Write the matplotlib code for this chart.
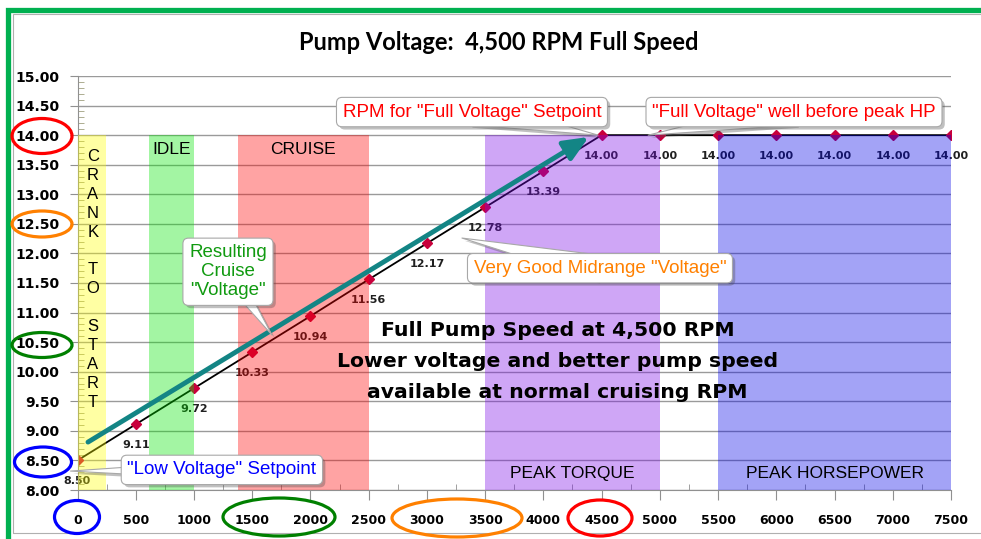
import numpy as np
import matplotlib
matplotlib.use('Agg')
import matplotlib.pyplot as plt
from matplotlib.patches import Ellipse, Rectangle
import matplotlib.patheffects as pe

# data
rpm = [0, 500, 1000, 1500, 2000, 2500, 3000, 3500, 4000, 4500, 5000, 5500, 6000, 6500, 7000, 7500]
volts = [8.50, 9.11, 9.72, 10.33, 10.94, 11.56, 12.17, 12.78, 13.39, 14.00, 14.00, 14.00, 14.00, 14.00, 14.00, 14.00]

band_start = [0, 612, 1375, 3500, 5500]
band_end = [245, 1000, 2500, 5000, 7500]
band_top = 14.0
band_color = ['#ffff00', '#00e600', '#ff0000', '#7a0ae8', '#0000e8']
band_names = ['', 'IDLE', 'CRUISE', 'PEAK TORQUE', 'PEAK HORSEPOWER']

W, H = 981, 539
fig = plt.figure(figsize=(W/100, H/100), dpi=100)
ax = fig.add_axes([77.5/W, 1-490/H, (951-77.5)/W, (490-76)/H])

def fp(x, y):
    # pixel (top-left origin) -> figure fraction
    return (x/W, 1-y/H)

# frame around the chart
fig.patches.append(Rectangle(fp(8, 560), 1100/W, 550/H, transform=fig.transFigure,
                             fill=False, ec='#00b050', lw=3.8, zorder=0))
fig.patches.append(Rectangle(fp(13, 533), 1100/W, 519/H, transform=fig.transFigure,
                             fill=False, ec='#b0b0b0', lw=0.8, zorder=0))

ax.set_xlim(0, 7500)
ax.set_ylim(8, 15)
ax.set_xticks(np.arange(0, 7501, 500))
ax.set_xticks(np.arange(250, 7500, 500), minor=True)
ax.set_yticks(np.arange(8, 15.01, 0.5))
ax.set_yticks(np.arange(8, 15.01, 0.1), minor=True)
ax.set_yticklabels(['%.2f' % v for v in np.arange(8, 15.01, 0.5)])
ax.tick_params(axis='x', which='major', direction='out', length=7, color='#909090',
               pad=10, labelsize=9)
ax.tick_params(axis='x', which='minor', direction='in', length=4, color='#909090')
ax.tick_params(axis='y', which='major', direction='out', length=6, color='#909090',
               pad=7, labelsize=10)
ax.tick_params(axis='y', which='minor', direction='in', length=4, color='#a0a080')
for lab in ax.get_xticklabels() + ax.get_yticklabels():
    lab.set_fontweight('bold')
for s in ['top', 'right']:
    ax.spines[s].set_visible(False)
ax.spines['left'].set_color('#909090')
ax.spines['bottom'].set_color('#909090')
ax.grid(axis='y', which='major', color='#9a9a9a', lw=1)
ax.set_axisbelow(True)

# series
ax.plot(rpm, volts, color='black', lw=1.3, zorder=2)
ax.plot(rpm, volts, ls='none', marker='D', ms=5.5, color='#c8003c', zorder=2.2)
for x, v in zip(rpm, volts):
    ax.annotate('%.2f' % v, (x, v), xytext=(0, -15), textcoords='offset points',
                ha='center', va='center', fontsize=8, fontweight='bold',
                color='#202020', zorder=2.3, annotation_clip=False)

# shaded bands drawn over the series
for x0, x1, c in zip(band_start, band_end, band_color):
    ax.fill_between([x0, x1], 8, band_top, color=c, alpha=0.36, lw=0, zorder=3)
ax.text((band_start[1]+band_end[1])/2, 13.75, band_names[1], ha='center', va='center',
        fontsize=12.5, family='Liberation Sans', zorder=5)
ax.text((band_start[2]+band_end[2])/2, 13.75, band_names[2], ha='center', va='center',
        fontsize=12.5, family='Liberation Sans', zorder=5)
ax.text((band_start[3]+band_end[3])/2, 8.28, band_names[3], ha='center', va='center',
        fontsize=12.5, family='Liberation Sans', zorder=5)
ax.text((band_start[4]+band_end[4])/2, 8.28, band_names[4], ha='center', va='center',
        fontsize=12.5, family='Liberation Sans', zorder=5)
ax.text(band_end[0]/2 + 10, 11.56, 'C\nR\nA\nN\nK\n\nT\nO\n\nS\nT\nA\nR\nT', ha='center', va='center',
        fontsize=12, family='Liberation Sans', linespacing=1.33, zorder=5)

# teal trend arrow
ax.annotate('', xy=(4390, 13.97), xytext=(90, 8.81),
            arrowprops=dict(arrowstyle='-|>,head_length=1.5,head_width=0.65',
                            lw=3.5, color='#138585', shrinkA=0, shrinkB=0), zorder=6)

# big comment
ax.text(4120, 10.17, 'Full Pump Speed at 4,500 RPM\nLower voltage and better pump speed\navailable at normal cruising RPM',
        ha='center', va='center', fontsize=14.7, fontweight='bold', linespacing=1.8,
        family='DejaVu Sans', zorder=6)

shadow = [pe.withSimplePatchShadow(offset=(2, -2), alpha=0.35)]

def callout(txt, box, tip, color, tw=1.4):
    a = ax.annotate(txt, xy=tip, xytext=box, ha='center', va='center', color=color,
                    fontsize=13.5, family='Liberation Sans', zorder=7, annotation_clip=False,
                    bbox=dict(boxstyle='round,pad=0.33,rounding_size=0.3', fc='white',
                              ec='#a8a8a8', lw=0.8),
                    arrowprops=dict(arrowstyle='wedge,tail_width=%s,shrink_factor=0.5' % tw,
                                    fc='white', ec='#a8a8a8', lw=0.8, patchA=None,
                                    shrinkA=0, shrinkB=0))
    a.get_bbox_patch().set_path_effects(shadow)
    a.arrow_patch.set_path_effects(shadow)
    return a

callout('RPM for "Full Voltage" Setpoint', (3387, 14.39), (4470, 14.0), '#ff0000')
callout('"Full Voltage" well before peak HP', (6152, 14.39), (4900, 14.0), '#ff0000')
c3 = callout('Resulting\nCruise\n"Voltage"', (1292, 11.69), (1670, 10.62), '#109a10', tw=1.0)
c3.set_linespacing(1.15)
callout('Very Good Midrange "Voltage"', (4486, 11.75), (3301, 12.26), '#ff8000')
callout('"Low Voltage" Setpoint', (1240, 8.34), (-60, 8.32), '#0000ff', tw=1.0)

# title
fig.text(499/W, 1-42/H, 'Pump Voltage:  4,500 RPM Full Speed', ha='center', va='center',
         fontsize=17, fontweight='bold', family='Lato')

# highlight rings around tick labels
rings = [((42, 136), 60, 35, '#ff0000'), ((42, 224), 60, 26, '#ff8000'),
         ((42, 345), 60, 25, '#008000'), ((43, 462), 57, 30, '#0000ff'),
         ((77, 517), 45, 33, '#0000ff'), ((279, 517), 112, 38, '#008000'),
         ((457, 518), 130, 38, '#ff8000'), ((600, 518), 64, 36, '#ff0000')]
for (cx, cy), w, h, c in rings:
    fig.patches.append(Ellipse(fp(cx, cy), w/W, h/H, transform=fig.transFigure,
                               fill=False, ec=c, lw=2.3, zorder=8))

fig.savefig('out.png', dpi=100)
